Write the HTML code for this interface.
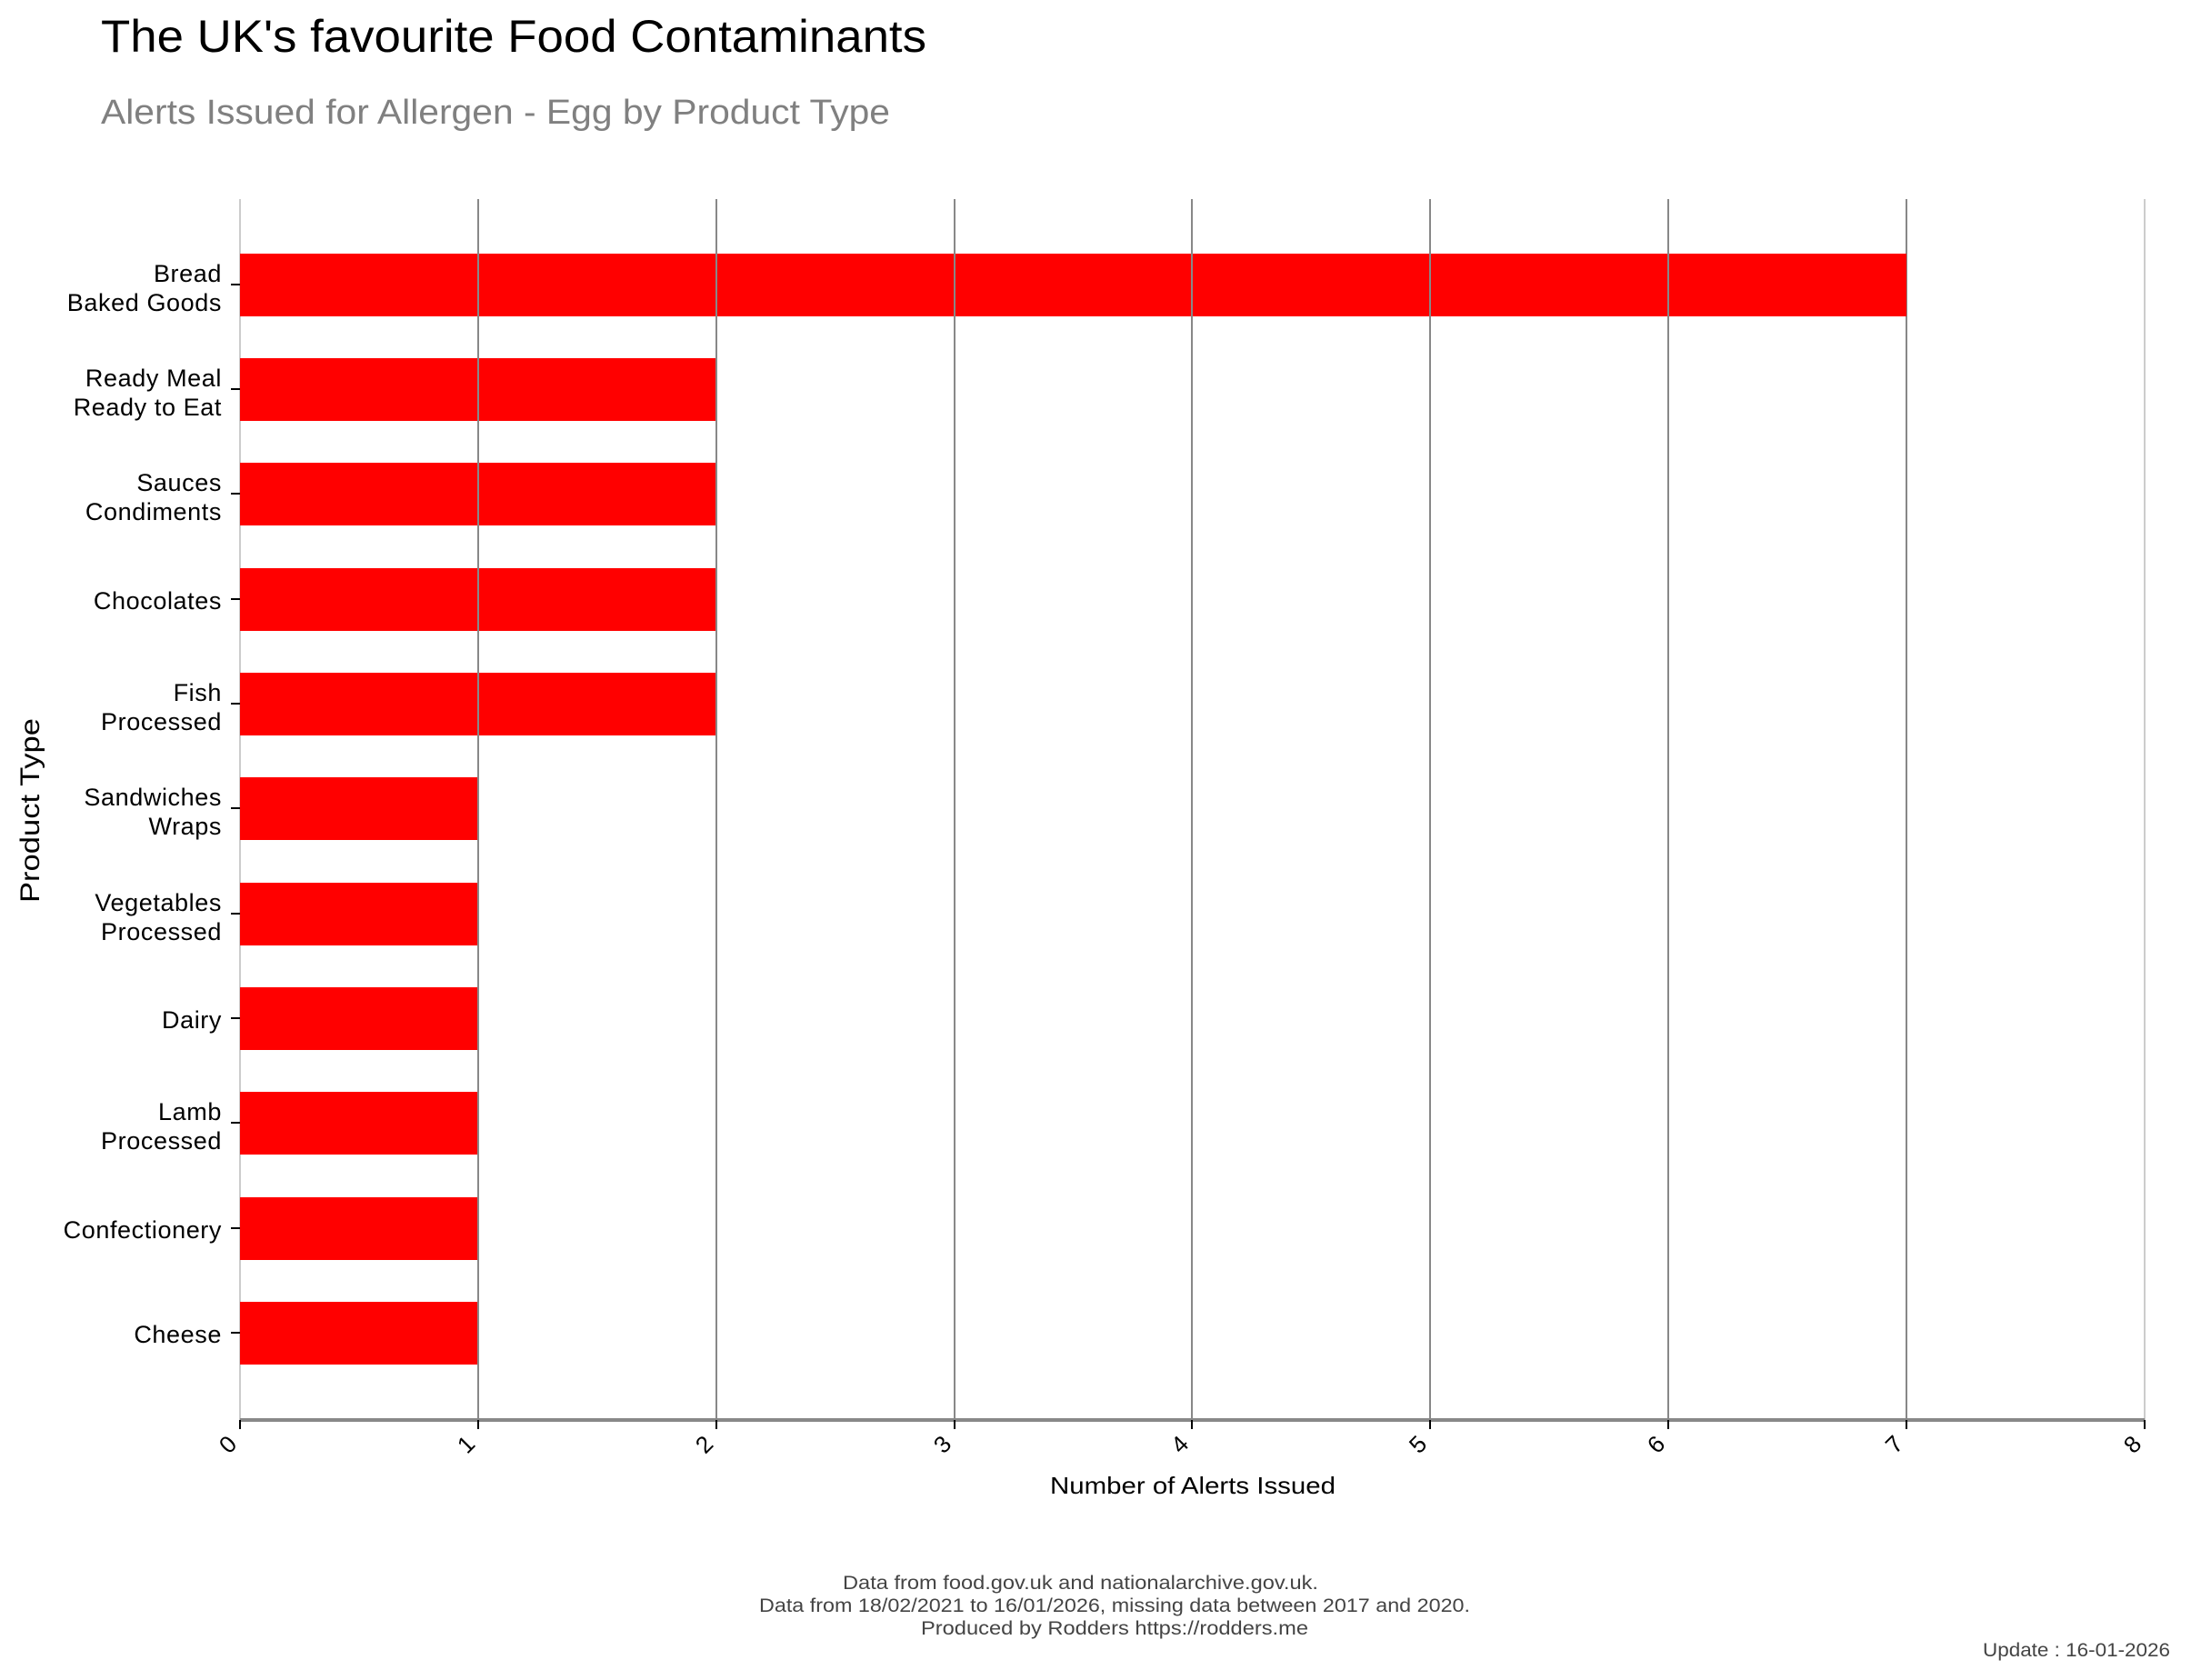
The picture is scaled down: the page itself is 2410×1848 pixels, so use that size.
<!DOCTYPE html>
<html><head><meta charset="utf-8"><style>
html,body{margin:0;padding:0;background:#fff;}
svg{display:block;font-family:"Liberation Sans",sans-serif;}
</style></head><body>
<svg width="2410" height="1848" viewBox="0 0 2410 1848" xmlns="http://www.w3.org/2000/svg">
<rect width="2410" height="1848" fill="#fff"/>
<text x="111" y="57" font-size="50" fill="#000" textLength="908" lengthAdjust="spacingAndGlyphs">The UK's favourite Food Contaminants</text>
<text x="111" y="136" font-size="38" fill="#808080" textLength="868" lengthAdjust="spacingAndGlyphs">Alerts Issued for Allergen - Egg by Product Type</text>
<g stroke-width="2">
<line x1="264" y1="219" x2="264" y2="1562" stroke="#ccc"/>
<line x1="526" y1="219" x2="526" y2="1562" stroke="#888"/>
<line x1="788" y1="219" x2="788" y2="1562" stroke="#888"/>
<line x1="1050" y1="219" x2="1050" y2="1562" stroke="#888"/>
<line x1="1311" y1="219" x2="1311" y2="1562" stroke="#888"/>
<line x1="1573" y1="219" x2="1573" y2="1562" stroke="#888"/>
<line x1="1835" y1="219" x2="1835" y2="1562" stroke="#888"/>
<line x1="2097" y1="219" x2="2097" y2="1562" stroke="#888"/>
<line x1="2359" y1="219" x2="2359" y2="1562" stroke="#ccc"/>
</g>
<g fill="#ff0000">
<rect x="264" y="279" width="1833" height="69"/>
<rect x="264" y="394" width="524" height="69"/>
<rect x="264" y="509" width="524" height="69"/>
<rect x="264" y="625" width="524" height="69"/>
<rect x="264" y="740" width="524" height="69"/>
<rect x="264" y="855" width="262" height="69"/>
<rect x="264" y="971" width="262" height="69"/>
<rect x="264" y="1086" width="262" height="69"/>
<rect x="264" y="1201" width="262" height="69"/>
<rect x="264" y="1317" width="262" height="69"/>
<rect x="264" y="1432" width="262" height="69"/>
</g>
<g stroke="#888" stroke-width="2">
<line x1="526" y1="279" x2="526" y2="1501"/>
<line x1="788" y1="279" x2="788" y2="348"/>
<line x1="1050" y1="279" x2="1050" y2="348"/>
<line x1="1311" y1="279" x2="1311" y2="348"/>
<line x1="1573" y1="279" x2="1573" y2="348"/>
<line x1="1835" y1="279" x2="1835" y2="348"/>
<line x1="788" y1="394" x2="788" y2="809"/>
</g>
<line x1="264" y1="1562" x2="2359" y2="1562" stroke="#888" stroke-width="4"/>
<g stroke="#000" stroke-width="2">
<line x1="264" y1="1562" x2="264" y2="1572"/><line x1="526" y1="1562" x2="526" y2="1572"/>
<line x1="788" y1="1562" x2="788" y2="1572"/><line x1="1050" y1="1562" x2="1050" y2="1572"/>
<line x1="1311" y1="1562" x2="1311" y2="1572"/><line x1="1573" y1="1562" x2="1573" y2="1572"/>
<line x1="1835" y1="1562" x2="1835" y2="1572"/><line x1="2097" y1="1562" x2="2097" y2="1572"/>
<line x1="2359" y1="1562" x2="2359" y2="1572"/>
</g>
<g font-size="26" fill="#000" text-anchor="end">
<text transform="translate(262,1590) rotate(-45)">0</text>
<text transform="translate(524,1590) rotate(-45)">1</text>
<text transform="translate(786,1590) rotate(-45)">2</text>
<text transform="translate(1048,1590) rotate(-45)">3</text>
<text transform="translate(1309,1590) rotate(-45)">4</text>
<text transform="translate(1571,1590) rotate(-45)">5</text>
<text transform="translate(1833,1590) rotate(-45)">6</text>
<text transform="translate(2095,1590) rotate(-45)">7</text>
<text transform="translate(2357,1590) rotate(-45)">8</text>
</g>
<text x="1155" y="1643" font-size="26" textLength="314" lengthAdjust="spacingAndGlyphs">Number of Alerts Issued</text>
<text transform="translate(43,993) rotate(-90)" font-size="30" textLength="203" lengthAdjust="spacingAndGlyphs">Product Type</text>
<g stroke="#000" stroke-width="2">
<line x1="254" y1="313" x2="264" y2="313"/><line x1="254" y1="428" x2="264" y2="428"/>
<line x1="254" y1="543" x2="264" y2="543"/><line x1="254" y1="659" x2="264" y2="659"/>
<line x1="254" y1="774" x2="264" y2="774"/><line x1="254" y1="889" x2="264" y2="889"/>
<line x1="254" y1="1005" x2="264" y2="1005"/><line x1="254" y1="1120" x2="264" y2="1120"/>
<line x1="254" y1="1235" x2="264" y2="1235"/><line x1="254" y1="1351" x2="264" y2="1351"/>
<line x1="254" y1="1466" x2="264" y2="1466"/>
</g>
<g font-size="27" fill="#000" text-anchor="end" letter-spacing="0.6">
<text x="244" y="310">Bread</text><text x="244" y="342">Baked Goods</text>
<text x="244" y="425">Ready Meal</text><text x="244" y="457">Ready to Eat</text>
<text x="244" y="540">Sauces</text><text x="244" y="572">Condiments</text>
<text x="244" y="670">Chocolates</text>
<text x="244" y="771">Fish</text><text x="244" y="803">Processed</text>
<text x="244" y="886">Sandwiches</text><text x="244" y="918">Wraps</text>
<text x="244" y="1002">Vegetables</text><text x="244" y="1034">Processed</text>
<text x="244" y="1131">Dairy</text>
<text x="244" y="1232">Lamb</text><text x="244" y="1264">Processed</text>
<text x="244" y="1362">Confectionery</text>
<text x="244" y="1477">Cheese</text>
</g>
<g font-size="21" fill="#444" lengthAdjust="spacingAndGlyphs">
<text x="927" y="1748" textLength="523" lengthAdjust="spacingAndGlyphs">Data from food.gov.uk and nationalarchive.gov.uk.</text>
<text x="835" y="1773" textLength="782" lengthAdjust="spacingAndGlyphs">Data from 18/02/2021 to 16/01/2026, missing data between 2017 and 2020.</text>
<text x="1013" y="1798" textLength="426" lengthAdjust="spacingAndGlyphs">Produced by Rodders https://rodders.me</text>
</g>
<text x="2181" y="1822" font-size="21" fill="#444" textLength="206" lengthAdjust="spacingAndGlyphs">Update : 16-01-2026</text>
</svg>
</body></html>
